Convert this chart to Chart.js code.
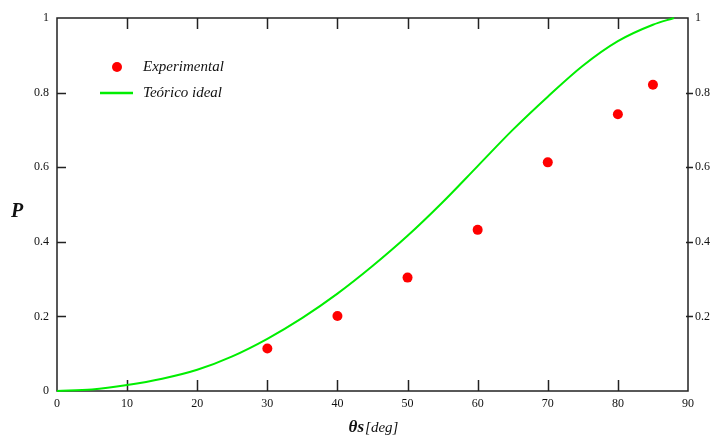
<!DOCTYPE html>
<html>
<head>
<meta charset="utf-8">
<script src="https://cdn.jsdelivr.net/npm/chart.js@4.4.1/dist/chart.umd.min.js"></script>
<style>
  html, body { margin: 0; padding: 0; background: #fff; }
  #wrap { width: 714px; height: 438px; }
</style>
</head>
<body>
<div id="wrap"><canvas id="pChart" width="714" height="438"></canvas></div>
<script>
// experimental points
const thetaExp = [30, 40, 50, 60, 70, 80, 85];
const pExp = [0.114, 0.201, 0.304, 0.432, 0.613, 0.742, 0.821];

const thetaTeo = [0, 5, 10, 15, 20, 25, 30, 35, 40, 45, 50, 55, 60, 65, 70, 75, 80, 85, 88];
const pTeo = [0, 0.004, 0.016, 0.033, 0.057, 0.093, 0.14, 0.196, 0.261, 0.335, 0.416, 0.506, 0.603, 0.7, 0.789, 0.872, 0.938, 0.982, 1.0];

const xTicks = [0, 10, 20, 30, 40, 50, 60, 70, 80, 90];
const yTicks = [0, 0.2, 0.4, 0.6, 0.8, 1];
const yTickLabels = ['0', '0.2', '0.4', '0.6', '0.8', '1'];

const legendItems = ['Experimental', 'Teórico ideal'];

const SERIF = '"Liberation Serif", "Times New Roman", serif';
const AXIS = '#222';

function setTicks(values) {
  return function (scale) {
    scale.ticks = values.map(v => ({ value: v }));
  };
}

// frame, inner ticks, axis titles and legend
const decor = {
  id: 'decor',
  beforeDatasetsDraw(chart) {
    const { ctx, chartArea: { left, right, top, bottom }, scales: { x, y } } = chart;
    ctx.save();
    ctx.strokeStyle = AXIS;
    ctx.lineWidth = 1.5;
    ctx.strokeRect(left, top, right - left, bottom - top);

    ctx.beginPath();
    xTicks.slice(1, -1).forEach(v => {
      const px = Math.round(x.getPixelForValue(v)) + 0.5;
      ctx.moveTo(px, bottom); ctx.lineTo(px, bottom - 11);
      ctx.moveTo(px, top); ctx.lineTo(px, top + 11);
    });
    yTicks.slice(1, -1).forEach(v => {
      const py = Math.round(y.getPixelForValue(v)) + 0.5;
      ctx.moveTo(left, py); ctx.lineTo(left + 9, py);
      ctx.moveTo(right - 2, py); ctx.lineTo(right + 5, py);
    });
    ctx.stroke();

    // legend
    ctx.fillStyle = '#ff0000';
    ctx.beginPath();
    ctx.arc(117, 67, 5, 0, Math.PI * 2);
    ctx.fill();
    ctx.strokeStyle = '#00ee00';
    ctx.lineWidth = 2.5;
    ctx.beginPath();
    ctx.moveTo(100, 93); ctx.lineTo(133, 93);
    ctx.stroke();

    ctx.fillStyle = '#111';
    ctx.font = 'italic 15px ' + SERIF;
    ctx.textBaseline = 'middle';
    ctx.textAlign = 'left';
    ctx.fillText(legendItems[0], 143, 67);
    ctx.fillText(legendItems[1], 143, 93);

    // axis titles
    ctx.textBaseline = 'alphabetic';
    const t1 = 'θs', t2 = '[deg]';
    ctx.font = 'bold italic 17px ' + SERIF;
    const w1 = ctx.measureText(t1).width;
    ctx.font = 'italic 15px ' + SERIF;
    const w2 = ctx.measureText(t2).width;
    let sx = 373 - (w1 + w2) / 2;
    ctx.font = 'bold italic 17px ' + SERIF;
    ctx.fillText(t1, sx, 432);
    ctx.font = 'italic 15px ' + SERIF;
    ctx.fillText(t2, sx + w1 + 1, 432);

    ctx.font = 'bold italic 20px ' + SERIF;
    ctx.fillText('P', 11, 217);
    ctx.restore();
  }
};

new Chart(document.getElementById('pChart'), {
  type: 'scatter',
  data: {
    datasets: [
      {
        label: legendItems[1],
        data: thetaTeo.map((t, i) => ({ x: t, y: pTeo[i] })),
        showLine: true,
        borderColor: '#00ee00',
        borderWidth: 2,
        pointRadius: 0,
        cubicInterpolationMode: 'monotone',
        clip: false
      },
      {
        label: legendItems[0],
        data: thetaExp.map((t, i) => ({ x: t, y: pExp[i] })),
        backgroundColor: '#ff0000',
        borderColor: '#ff0000',
        pointRadius: 5,
        borderWidth: 0
      }
    ]
  },
  options: {
    responsive: false,
    animation: false,
    devicePixelRatio: 1,
    layout: { padding: { top: 18, left: 0, right: 0, bottom: 0 } },
    plugins: { legend: { display: false }, tooltip: { enabled: false } },
    scales: {
      x: {
        type: 'linear', min: 0, max: 90,
        afterBuildTicks: setTicks(xTicks),
        afterFit(s) { s.height = 47; },
        grid: { display: false, drawTicks: false },
        border: { display: false },
        ticks: { padding: 6, color: '#111', font: { family: SERIF, size: 12 }, maxRotation: 0 }
      },
      y: {
        type: 'linear', min: 0, max: 1, position: 'left',
        afterBuildTicks: setTicks(yTicks),
        afterFit(s) { s.width = 57; },
        grid: { display: false, drawTicks: false },
        border: { display: false },
        ticks: {
          padding: 8, color: '#111', font: { family: SERIF, size: 12 },
          callback: (v) => yTickLabels[yTicks.indexOf(v)]
        }
      },
      y2: {
        type: 'linear', min: 0, max: 1, position: 'right',
        afterBuildTicks: setTicks(yTicks),
        afterFit(s) { s.width = 26; },
        grid: { display: false, drawTicks: false },
        border: { display: false },
        ticks: {
          padding: 7, color: '#111', font: { family: SERIF, size: 12 },
          callback: (v) => v === 0 ? '' : yTickLabels[yTicks.indexOf(v)]
        }
      }
    }
  },
  plugins: [decor]
});
</script>
</body>
</html>
